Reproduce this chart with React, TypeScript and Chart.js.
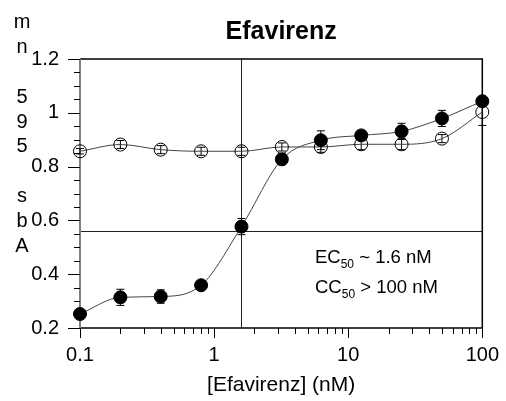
import { useEffect, useRef } from "react";
import { Chart, registerables } from "chart.js";
Chart.register(...registerables);

const concentrations = [0.1, 0.2, 0.4, 0.8, 1.6, 3.2, 6.25, 12.5, 25, 50, 100];
const filledValues = [0.252, 0.314, 0.317, 0.359, 0.577, 0.827, 0.898, 0.916, 0.931, 0.979, 1.043];
const filledErrors = [0.005, 0.03, 0.025, 0.01, 0.03, 0.02, 0.035, 0.01, 0.03, 0.03, 0.01];
const openValues = [0.857, 0.882, 0.863, 0.857, 0.857, 0.873, 0.873, 0.883, 0.883, 0.904, 1.003];
const openErrors = [0.01, 0.015, 0.015, 0.015, 0.015, 0.015, 0.02, 0.02, 0.02, 0.015, 0.05];
const xTickValues = [0.1, 1, 10, 100];
const yTickValues = [0.2, 0.4, 0.6, 0.8, 1, 1.2];
const yMinorStep = 0.05;
const ec50 = 1.6;
const halfLevel = 0.56;
const titleText = "Efavirenz";
const xTitle = "[Efavirenz] (nM)";
const yAxisLabel = "Abs 595 nm";
const annotationLines = [
  { main: "EC", sub: "50", rest: " ~ 1.6 nM" },
  { main: "CC", sub: "50", rest: " > 100 nM" },
];

const FONT = "'Liberation Sans', Arial, sans-serif";

const decorPlugin = {
  id: "decor",
  beforeDatasetsDraw(chart: any) {
    const { ctx, chartArea: a, scales } = chart;
    const x = scales.x;
    const y = scales.y;
    ctx.save();
    // reference lines
    ctx.strokeStyle = "#222";
    ctx.lineWidth = 1;
    const ex = Math.round(x.getPixelForValue(ec50)) + 0.5;
    const hy = Math.round(y.getPixelForValue(halfLevel)) + 0.5;
    ctx.beginPath();
    ctx.moveTo(ex, a.top);
    ctx.lineTo(ex, a.bottom);
    ctx.moveTo(a.left, hy);
    ctx.lineTo(a.right, hy);
    ctx.stroke();

    // frame
    ctx.strokeStyle = "#000";
    ctx.lineWidth = 1.5;
    ctx.beginPath();
    ctx.moveTo(a.left, a.top);
    ctx.lineTo(a.right, a.top);
    ctx.lineTo(a.right, a.bottom);
    ctx.lineTo(a.left, a.bottom);
    ctx.stroke();
    ctx.strokeStyle = "#808080";
    ctx.lineWidth = 2;
    ctx.beginPath();
    ctx.moveTo(a.left, a.top);
    ctx.lineTo(a.left, a.bottom + 1);
    ctx.stroke();

    // y ticks
    ctx.lineWidth = 1;
    ctx.strokeStyle = "#000";
    ctx.beginPath();
    const yMin = y.min;
    const yMax = y.max;
    const n = Math.round((yMax - yMin) / yMinorStep);
    for (let i = 0; i <= n; i++) {
      const v = yMin + i * yMinorStep;
      const major = yTickValues.some((t) => Math.abs(t - v) < 1e-6);
      const py = Math.round(y.getPixelForValue(v)) + 0.5;
      ctx.moveTo(a.left - (major ? 12 : 6), py);
      ctx.lineTo(a.left, py);
    }
    // x ticks
    for (let d = -1; d < 2; d++) {
      for (let m = 1; m <= 10; m++) {
        const v = m * Math.pow(10, d);
        const major = m === 1 || m === 10;
        const px = Math.round(x.getPixelForValue(v)) + 0.5;
        ctx.moveTo(px, a.bottom);
        ctx.lineTo(px, a.bottom + (major ? 10 : 6));
      }
    }
    ctx.stroke();

    // error bars
    ctx.strokeStyle = "#000";
    ctx.lineWidth = 1;
    const drawErr = (vals: number[], errs: number[]) => {
      ctx.beginPath();
      concentrations.forEach((c, i) => {
        const px = x.getPixelForValue(c);
        const y1 = y.getPixelForValue(vals[i] - errs[i]);
        const y2 = y.getPixelForValue(vals[i] + errs[i]);
        ctx.moveTo(px, y1);
        ctx.lineTo(px, y2);
        ctx.moveTo(px - 4, y1);
        ctx.lineTo(px + 4, y1);
        ctx.moveTo(px - 4, y2);
        ctx.lineTo(px + 4, y2);
      });
      ctx.stroke();
    };
    drawErr(openValues, openErrors);
    drawErr(filledValues, filledErrors);
    ctx.restore();
  },
  afterDraw(chart: any) {
    const { ctx, chartArea: a } = chart;
    ctx.save();
    ctx.fillStyle = "#000";
    // title
    ctx.font = `bold 25px ${FONT}`;
    ctx.textAlign = "center";
    ctx.textBaseline = "alphabetic";
    ctx.fillText(titleText, (a.left + a.right) / 2, 39);
    // x title
    ctx.font = `21px ${FONT}`;
    ctx.fillText(xTitle, (a.left + a.right) / 2, 391);
    // y label: characters stacked, reading bottom-to-top
    ctx.font = `20px ${FONT}`;
    const chars = yAxisLabel.split("");
    chars.forEach((ch, i) => {
      if (ch !== " ") ctx.fillText(ch, 22, 252 - i * 24.9);
    });
    // annotations
    ctx.textAlign = "left";
    annotationLines.forEach((ln, i) => {
      let px = 315;
      const base = 263 + i * 30;
      ctx.font = `18.5px ${FONT}`;
      ctx.fillText(ln.main, px, base);
      px += ctx.measureText(ln.main).width;
      ctx.font = `12px ${FONT}`;
      ctx.fillText(ln.sub, px, base + 5);
      px += ctx.measureText(ln.sub).width;
      ctx.font = `18.5px ${FONT}`;
      ctx.fillText(ln.rest, px, base);
    });
    ctx.restore();
  },
};

export default function App() {
  const ref = useRef<HTMLCanvasElement | null>(null);
  useEffect(() => {
    document.body.style.margin = "0";
    if (!ref.current) return;
    const chart = new Chart(ref.current, {
      type: "line",
      data: {
        datasets: [
          {
            data: concentrations.map((c, i) => ({ x: c, y: filledValues[i] })),
            borderColor: "#444",
            borderWidth: 1,
            pointRadius: 6.5,
            pointBackgroundColor: "#000",
            pointBorderColor: "#000",
            pointBorderWidth: 1,
            cubicInterpolationMode: "monotone",
            clip: false,
          },
          {
            data: concentrations.map((c, i) => ({ x: c, y: openValues[i] })),
            borderColor: "#444",
            borderWidth: 1,
            pointRadius: 6.5,
            pointBackgroundColor: "rgba(0,0,0,0)",
            pointBorderColor: "#000",
            pointBorderWidth: 1,
            cubicInterpolationMode: "monotone",
            clip: false,
          },
        ],
      },
      options: {
        animation: false,
        responsive: true,
        maintainAspectRatio: false,
        layout: { padding: { left: 0, right: 23, top: 59, bottom: 0 } },
        plugins: { legend: { display: false }, tooltip: { enabled: false }, title: { display: false } },
        scales: {
          x: {
            type: "logarithmic",
            min: 0.1,
            max: 100,
            grid: { display: false },
            border: { display: false },
            afterBuildTicks: (s: any) => {
              s.ticks = xTickValues.map((v) => ({ value: v }));
            },
            afterFit: (s: any) => {
              s.height = 73;
            },
            ticks: {
              autoSkip: false,
              maxRotation: 0,
              padding: 7,
              color: "#000",
              font: { family: FONT, size: 20 },
              callback: (v: any) => String(v),
            },
          },
          y: {
            type: "linear",
            min: 0.2,
            max: 1.2,
            grid: { display: false },
            border: { display: false },
            afterBuildTicks: (s: any) => {
              s.ticks = yTickValues.map((v) => ({ value: v }));
            },
            afterFit: (s: any) => {
              s.width = 80;
            },
            ticks: {
              padding: 13,
              color: "#000",
              font: { family: FONT, size: 20 },
              callback: (v: any) => String(Number(Number(v).toFixed(2))),
            },
          },
        },
      },
      plugins: [decorPlugin],
    } as any);
    return () => chart.destroy();
  }, []);
  return (
    <div style={{ width: 506, height: 401, position: "relative" }}>
      <canvas ref={ref} />
    </div>
  );
}
